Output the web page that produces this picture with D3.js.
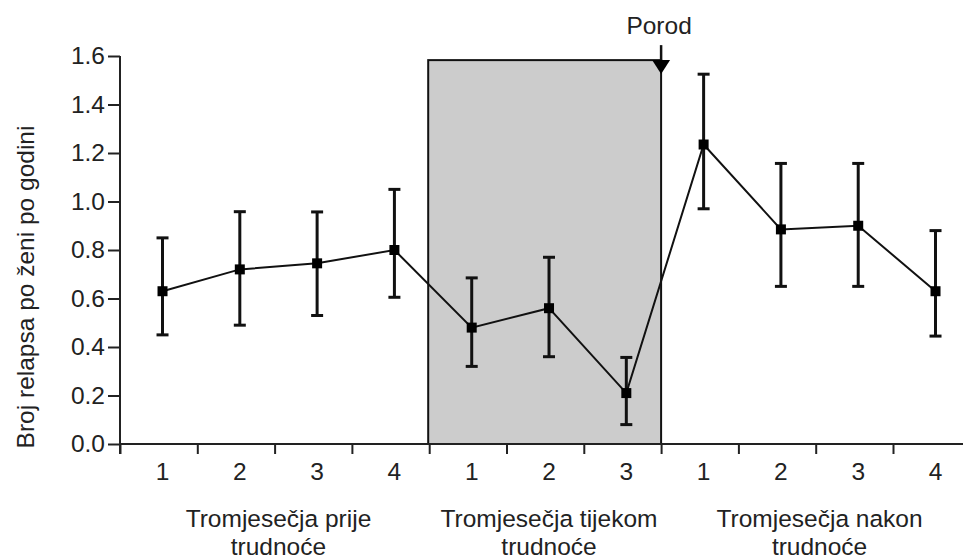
<!DOCTYPE html>
<html>
<head>
<meta charset="utf-8">
<script src="https://cdn.jsdelivr.net/npm/d3@7"></script>
<style>
  html, body { margin: 0; padding: 0; background: #fff; }
  svg { display: block; font-family: "Liberation Sans", Arial, sans-serif; }
  text { fill: #222; }
</style>
</head>
<body>
<svg id="chart" width="963" height="558"></svg>
<script>
  'use strict';

  // data: relapses per woman per year, per trimester
  var trimesterLabels = ['1', '2', '3', '4', '1', '2', '3', '1', '2', '3', '4'];
  var means = [0.63, 0.72, 0.745, 0.80, 0.48, 0.56, 0.21, 1.235, 0.885, 0.90, 0.63];
  var lower = [0.45, 0.49, 0.53, 0.605, 0.32, 0.36, 0.08, 0.97, 0.65, 0.65, 0.445];
  var upper = [0.85, 0.958, 0.957, 1.05, 0.685, 0.77, 0.357, 1.525, 1.157, 1.157, 0.88];
  var groupNames = [['Tromjesečja prije', 'trudnoće'], ['Tromjesečja tijekom', 'trudnoće'], ['Tromjesečja nakon', 'trudnoće']];
  var groupRanges = [[0, 3], [4, 6], [7, 10]];
  var yTicks = [0, 0.2, 0.4, 0.6, 0.8, 1.0, 1.2, 1.4, 1.6];
  var pregnancySpan = [4, 7];
  var shadeTop = 1.583;
  var birthLabel = 'Porod';
  var yTitle = 'Broj relapsa po ženi po godini';

  var svg = d3.select('#chart');
  var fontSize = '24.5px';
  var x0 = 120;
  var step = 77.3;
  var offset = 0.55;

  var xScale = d3.scaleLinear().domain([0, 11]).range([x0, x0 + 11 * step]);
  var yScale = d3.scaleLinear().domain([0, 1.6]).range([444, 56]);

  var nodes = means.map(function(m, i) {
    return { i: i, m: m, lo: lower[i], hi: upper[i], label: trimesterLabels[i] };
  });

  // shaded pregnancy box
  svg.append('rect')
    .attr('x', xScale(pregnancySpan[0]) - 1)
    .attr('y', yScale(shadeTop))
    .attr('width', xScale(pregnancySpan[1]) - xScale(pregnancySpan[0]) + 1)
    .attr('height', yScale(0) - yScale(shadeTop))
    .attr('fill', '#cccccc')
    .attr('stroke', '#111')
    .attr('stroke-width', 2);

  // y axis
  var yAxis = d3.axisLeft(yScale)
    .tickValues(yTicks)
    .tickSize(12)
    .tickPadding(3)
    .tickFormat(d3.format('.1f'));

  var gy = svg.append('g')
    .attr('transform', 'translate(' + x0 + ',0)')
    .call(yAxis);
  gy.select('.domain').remove();
  gy.append('line')
    .attr('x1', 0).attr('x2', 0)
    .attr('y1', yScale(1.6)).attr('y2', yScale(0) + 10)
    .attr('stroke', '#222').attr('stroke-width', 2);
  gy.selectAll('.tick line').attr('stroke', '#222').attr('stroke-width', 2);
  gy.selectAll('.tick text')
    .attr('fill', '#222')
    .style('font-size', fontSize)
    .style('font-family', '"Liberation Sans", Arial, sans-serif');

  // x axis: separator ticks, labels at point positions
  var xAxis = d3.axisBottom(xScale)
    .tickValues(d3.range(0, 11))
    .tickSize(10)
    .tickFormat('');

  var gx = svg.append('g')
    .attr('transform', 'translate(0,' + yScale(0) + ')')
    .call(xAxis);
  gx.select('.domain').remove();
  gx.append('line')
    .attr('x1', x0).attr('x2', 963)
    .attr('y1', 0).attr('y2', 0)
    .attr('stroke', '#222').attr('stroke-width', 2);
  gx.selectAll('.tick line').attr('stroke', '#222').attr('stroke-width', 2);

  svg.append('g')
    .selectAll('text')
    .data(nodes)
    .enter()
    .append('text')
    .attr('x', function(d) { return xScale(d.i + offset); })
    .attr('y', 471)
    .attr('text-anchor', 'middle')
    .attr('dominant-baseline', 'central')
    .style('font-size', fontSize)
    .text(function(d) { return d.label; });

  // group labels
  var groups = svg.append('g')
    .selectAll('text')
    .data(groupNames)
    .enter()
    .append('text')
    .attr('text-anchor', 'middle')
    .style('font-size', fontSize);

  groups.each(function(lines, gi) {
    var cx = (xScale(groupRanges[gi][0] + offset) + xScale(groupRanges[gi][1] + offset)) / 2;
    d3.select(this).selectAll('tspan')
      .data(lines)
      .enter()
      .append('tspan')
      .attr('x', cx)
      .attr('y', function(d, k) { return 518 + k * 28; })
      .attr('dominant-baseline', 'central')
      .text(function(d) { return d; });
  });

  // y title
  svg.append('text')
    .attr('transform', 'translate(25,287) rotate(-90)')
    .attr('text-anchor', 'middle')
    .attr('dominant-baseline', 'central')
    .style('font-size', fontSize)
    .text(yTitle);

  // connecting line
  var line = d3.line()
    .x(function(d) { return xScale(d.i + offset); })
    .y(function(d) { return yScale(d.m); });

  svg.append('path')
    .datum(nodes)
    .attr('d', line)
    .attr('fill', 'none')
    .attr('stroke', '#111')
    .attr('stroke-width', 2);

  // error bars
  var bars = svg.append('g')
    .selectAll('g')
    .data(nodes)
    .enter()
    .append('g')
    .attr('stroke', '#111')
    .attr('stroke-width', 3);

  bars.append('line')
    .attr('x1', function(d) { return xScale(d.i + offset); })
    .attr('x2', function(d) { return xScale(d.i + offset); })
    .attr('y1', function(d) { return yScale(d.lo); })
    .attr('y2', function(d) { return yScale(d.hi); });

  bars.append('line')
    .attr('x1', function(d) { return xScale(d.i + offset) - 6; })
    .attr('x2', function(d) { return xScale(d.i + offset) + 6; })
    .attr('y1', function(d) { return yScale(d.lo); })
    .attr('y2', function(d) { return yScale(d.lo); });

  bars.append('line')
    .attr('x1', function(d) { return xScale(d.i + offset) - 6; })
    .attr('x2', function(d) { return xScale(d.i + offset) + 6; })
    .attr('y1', function(d) { return yScale(d.hi); })
    .attr('y2', function(d) { return yScale(d.hi); });

  // square markers
  svg.append('g')
    .selectAll('rect')
    .data(nodes)
    .enter()
    .append('rect')
    .attr('x', function(d) { return xScale(d.i + offset) - 5; })
    .attr('y', function(d) { return yScale(d.m) - 5; })
    .attr('width', 10)
    .attr('height', 10)
    .attr('fill', '#000');

  // birth arrow
  var bx = xScale(pregnancySpan[1]);
  var by = yScale(shadeTop);
  svg.append('line')
    .attr('x1', bx).attr('x2', bx)
    .attr('y1', by - 15).attr('y2', by + 2)
    .attr('stroke', '#111').attr('stroke-width', 2.5);
  svg.append('path')
    .attr('d', 'M' + (bx - 9) + ',' + by + 'L' + (bx + 9) + ',' + by + 'L' + bx + ',' + (by + 14) + 'Z')
    .attr('fill', '#000');
  svg.append('text')
    .attr('x', bx - 2)
    .attr('y', 25)
    .attr('text-anchor', 'middle')
    .attr('dominant-baseline', 'central')
    .style('font-size', fontSize)
    .text(birthLabel);
</script>
</body>
</html>
